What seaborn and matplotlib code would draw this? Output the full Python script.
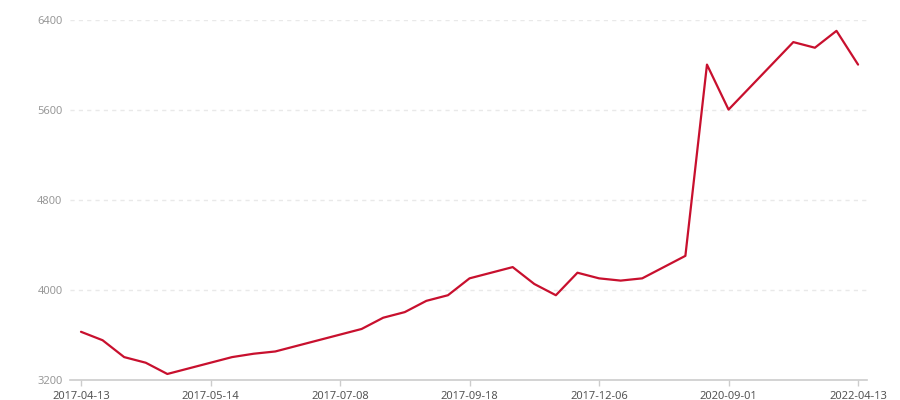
import matplotlib
matplotlib.use("Agg")
import matplotlib.pyplot as plt
import seaborn as sns
import pandas as pd

values = [3625, 3550, 3400, 3350, 3250, 3300, 3350, 3400, 3430, 3450,
          3500, 3550, 3600, 3650, 3750, 3800, 3900, 3950, 4100, 4150,
          4200, 4050, 3950, 4150, 4100, 4080, 4100, 4200, 4300, 6000,
          5600, 5800, 6000, 6200, 6150, 6300, 6000]
tick_positions = [0, 6, 12, 18, 24, 30, 36]
tick_labels = ["2017-04-13", "2017-05-14", "2017-07-08", "2017-09-18",
               "2017-12-06", "2020-09-01", "2022-04-13"]
y_ticks = [3200, 4000, 4800, 5600, 6400]

df = pd.DataFrame({"idx": list(range(len(values))), "value": values})

sns.set_theme(style="white")
plt.rcParams["font.family"] = ["Noto Sans", "DejaVu Sans"]

fig = plt.figure(figsize=(9, 4), dpi=100)
ax = fig.add_axes([0.078, 0.051, 0.885, 0.9])

sns.lineplot(data=df, x="idx", y="value", ax=ax, color="#c8102e",
             linewidth=1.6, zorder=3)

ax.set_xlim(-0.5, 36.4)
ax.set_ylim(3200, 6400)
ax.set_yticks(y_ticks)
ax.set_yticklabels([str(v) for v in y_ticks])
ax.set_xticks(tick_positions)
ax.set_xticklabels(tick_labels)

for v in y_ticks[1:]:
    ax.axhline(v, color="#e9e9e9", linewidth=1, linestyle=(0, (3, 3)), zorder=1)

for s in ["top", "right", "left"]:
    ax.spines[s].set_visible(False)
ax.spines["bottom"].set_color("#cccccc")
ax.spines["bottom"].set_linewidth(1.2)

ax.tick_params(axis="x", colors="#cccccc", labelcolor="#555555", length=4,
               width=1, labelsize=8, pad=4, bottom=True)
ax.tick_params(axis="y", length=0, labelcolor="#999999", labelsize=8, pad=5.5)
ax.set_xlabel("")
ax.set_ylabel("")
ax.grid(False)

fig.savefig("out.png", dpi=100)
